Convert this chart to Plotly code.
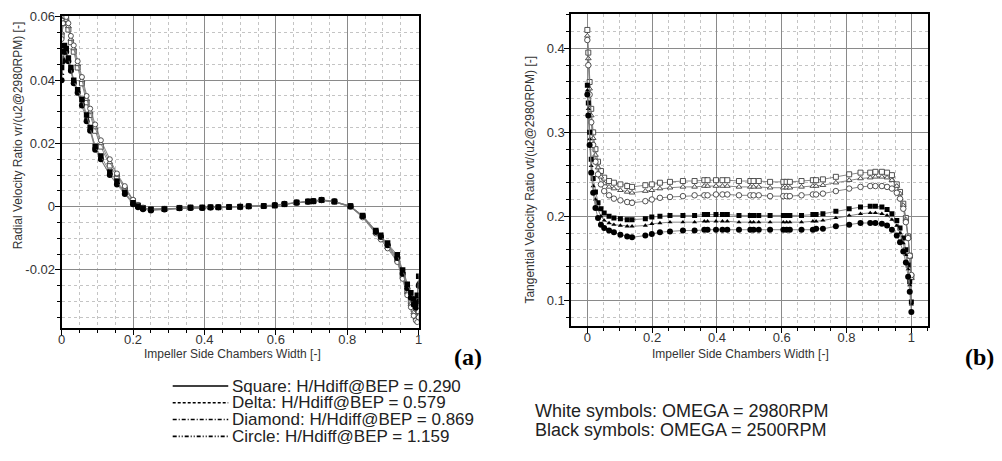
import plotly.graph_objects as go

# ---------------- data ----------------
# (a) radial velocity ratio
xa = [0.000, 0.004, 0.008, 0.013, 0.019, 0.026, 0.034, 0.045, 0.057, 0.070,
      0.080, 0.094, 0.110, 0.135, 0.155, 0.177, 0.200, 0.214, 0.228, 0.250,
      0.288, 0.330, 0.361, 0.394, 0.417, 0.439, 0.469, 0.500, 0.524, 0.566,
      0.597, 0.624, 0.658, 0.690, 0.705, 0.728, 0.764, 0.809, 0.843, 0.880,
      0.894, 0.913, 0.940, 0.955, 0.968, 0.978, 0.986, 0.992, 0.996, 1.000]

vr_white_square = [0.054, 0.058, 0.060, 0.059, 0.056, 0.052, 0.049, 0.044, 0.039, 0.033,
                   0.029, 0.024, 0.019, 0.013, 0.0095, 0.0055, 0.0018, 0.0004, -0.0004, -0.0008,
                   -0.0007, -0.0004, -0.0003, -0.0003, -0.0002, -0.0002, -0.0001, 0.0000, 0.0001, 0.0002,
                   0.0004, 0.0008, 0.0013, 0.0016, 0.0017, 0.0021, 0.0016, 0.0001, -0.0030, -0.0080,
                   -0.0097, -0.0125, -0.0165, -0.0215, -0.0265, -0.0300, -0.0325, -0.0340, -0.0348, -0.0330]
vr_white_delta = [0.055, 0.059, 0.0602, 0.059, 0.057, 0.053, 0.050, 0.045, 0.040, 0.034,
                  0.030, 0.025, 0.020, 0.014, 0.0100, 0.0060, 0.0020, 0.0005, -0.0004, -0.0008,
                  -0.0007, -0.0004, -0.0003, -0.0003, -0.0002, -0.0002, -0.0001, 0.0000, 0.0001, 0.0002,
                  0.0004, 0.0008, 0.0012, 0.0015, 0.0017, 0.0020, 0.0015, 0.0000, -0.0032, -0.0082,
                  -0.0100, -0.0128, -0.0170, -0.0222, -0.0272, -0.0308, -0.0335, -0.0352, -0.0360, -0.0345]
vr_white_circle = [0.053, 0.058, 0.0602, 0.060, 0.058, 0.054, 0.051, 0.046, 0.041, 0.035,
                   0.031, 0.026, 0.021, 0.015, 0.0105, 0.0065, 0.0022, 0.0006, -0.0003, -0.0008,
                   -0.0007, -0.0004, -0.0003, -0.0003, -0.0002, -0.0002, -0.0001, 0.0000, 0.0001, 0.0002,
                   0.0004, 0.0008, 0.0012, 0.0015, 0.0017, 0.0020, 0.0015, -0.0001, -0.0034, -0.0085,
                   -0.0104, -0.0132, -0.0175, -0.0228, -0.0280, -0.0318, -0.0345, -0.0360, -0.0365, -0.0350]
vr_black_square = [0.044, 0.049, 0.051, 0.050, 0.047, 0.044, 0.040, 0.037, 0.034, 0.029,
                   0.025, 0.019, 0.016, 0.011, 0.008, 0.0045, 0.0012, 0.0002, -0.0005, -0.0009,
                   -0.0007, -0.0004, -0.0003, -0.0003, -0.0002, -0.0002, -0.0001, 0.0000, 0.0001, 0.0002,
                   0.0004, 0.0008, 0.0013, 0.0016, 0.0017, 0.0021, 0.0016, 0.0002, -0.0028, -0.0075,
                   -0.0090, -0.0115, -0.0152, -0.0200, -0.0245, -0.0272, -0.0292, -0.0305, -0.0280, -0.0220]
vr_black_delta = [0.042, 0.047, 0.050, 0.049, 0.046, 0.043, 0.040, 0.036, 0.033, 0.028,
                  0.024, 0.019, 0.015, 0.010, 0.0075, 0.0042, 0.0010, 0.0000, -0.0006, -0.0010,
                  -0.0008, -0.0005, -0.0004, -0.0003, -0.0003, -0.0002, -0.0001, 0.0000, 0.0001, 0.0002,
                  0.0004, 0.0008, 0.0012, 0.0015, 0.0017, 0.0020, 0.0015, 0.0000, -0.0030, -0.0078,
                  -0.0094, -0.0120, -0.0158, -0.0206, -0.0250, -0.0280, -0.0300, -0.0310, -0.0290, -0.0240]
vr_black_circle = [0.040, 0.046, 0.049, 0.049, 0.046, 0.043, 0.039, 0.036, 0.032, 0.027,
                   0.024, 0.018, 0.015, 0.010, 0.0070, 0.0040, 0.0008, -0.0002, -0.0008, -0.0012,
                   -0.0009, -0.0005, -0.0004, -0.0004, -0.0003, -0.0002, -0.0001, 0.0000, 0.0001, 0.0002,
                   0.0005, 0.0009, 0.0013, 0.0016, 0.0018, 0.0022, 0.0017, 0.0001, -0.0030, -0.0080,
                   -0.0096, -0.0122, -0.0162, -0.0212, -0.0258, -0.0288, -0.0310, -0.0320, -0.0300, -0.0250]

# (b) tangential velocity ratio
xb = [0.000, 0.003, 0.007, 0.012, 0.018, 0.025, 0.033, 0.042, 0.052, 0.067,
      0.082, 0.102, 0.123, 0.138, 0.179, 0.199, 0.224, 0.255, 0.295, 0.331,
      0.361, 0.371, 0.397, 0.417, 0.432, 0.468, 0.503, 0.513, 0.529, 0.564,
      0.605, 0.615, 0.625, 0.661, 0.696, 0.706, 0.727, 0.767, 0.808, 0.843,
      0.873, 0.889, 0.909, 0.925, 0.940, 0.955, 0.965, 0.975, 0.983, 0.990,
      0.995, 1.000]

vt_white_square = [0.422, 0.395, 0.360, 0.328, 0.300, 0.280, 0.265, 0.254, 0.246, 0.242,
                   0.240, 0.238, 0.236, 0.235, 0.237, 0.238, 0.240, 0.241, 0.242, 0.242,
                   0.243, 0.243, 0.243, 0.243, 0.243, 0.242, 0.242, 0.242, 0.242, 0.241,
                   0.241, 0.241, 0.241, 0.242, 0.243, 0.243, 0.244, 0.247, 0.250, 0.252,
                   0.252, 0.253, 0.253, 0.252, 0.249, 0.238, 0.229, 0.215, 0.198, 0.176,
                   0.153, 0.128]
vt_white_delta = [0.415, 0.388, 0.352, 0.320, 0.293, 0.273, 0.258, 0.247, 0.239, 0.235,
                  0.233, 0.231, 0.229, 0.228, 0.230, 0.231, 0.233, 0.234, 0.235, 0.235,
                  0.236, 0.236, 0.236, 0.236, 0.236, 0.235, 0.235, 0.235, 0.235, 0.234,
                  0.234, 0.234, 0.234, 0.235, 0.236, 0.236, 0.237, 0.240, 0.243, 0.245,
                  0.246, 0.247, 0.247, 0.246, 0.243, 0.236, 0.227, 0.213, 0.196, 0.175,
                  0.152, 0.126]
vt_white_circle = [0.410, 0.380, 0.345, 0.312, 0.285, 0.265, 0.250, 0.238, 0.230, 0.225,
                   0.221, 0.219, 0.217, 0.216, 0.218, 0.220, 0.222, 0.223, 0.224, 0.225,
                   0.225, 0.225, 0.226, 0.226, 0.226, 0.225, 0.225, 0.225, 0.225, 0.224,
                   0.224, 0.224, 0.224, 0.225, 0.226, 0.226, 0.227, 0.230, 0.233, 0.235,
                   0.236, 0.236, 0.236, 0.235, 0.233, 0.228, 0.221, 0.209, 0.193, 0.174,
                   0.153, 0.130]
vt_black_square = [0.356, 0.335, 0.300, 0.268, 0.245, 0.229, 0.216, 0.209, 0.204, 0.200,
                   0.198, 0.197, 0.196, 0.196, 0.197, 0.199, 0.200, 0.201, 0.201, 0.201,
                   0.202, 0.202, 0.202, 0.202, 0.202, 0.201, 0.201, 0.201, 0.201, 0.201,
                   0.201, 0.201, 0.201, 0.201, 0.202, 0.202, 0.203, 0.206, 0.209, 0.211,
                   0.212, 0.212, 0.211, 0.208, 0.203, 0.195, 0.186, 0.174, 0.160, 0.142,
                   0.122, 0.098]
vt_black_delta = [0.350, 0.328, 0.292, 0.260, 0.236, 0.220, 0.208, 0.200, 0.195, 0.192,
                  0.190, 0.189, 0.188, 0.188, 0.189, 0.191, 0.192, 0.193, 0.193, 0.193,
                  0.194, 0.194, 0.194, 0.194, 0.194, 0.193, 0.193, 0.193, 0.193, 0.193,
                  0.193, 0.193, 0.193, 0.193, 0.194, 0.194, 0.195, 0.198, 0.201, 0.203,
                  0.204, 0.204, 0.203, 0.201, 0.196, 0.189, 0.180, 0.168, 0.154, 0.137,
                  0.118, 0.095]
vt_black_circle = [0.345, 0.320, 0.285, 0.252, 0.228, 0.210, 0.198, 0.190, 0.186, 0.183,
                   0.181, 0.178, 0.176, 0.175, 0.177, 0.179, 0.181, 0.182, 0.183, 0.183,
                   0.184, 0.184, 0.184, 0.184, 0.184, 0.184, 0.184, 0.184, 0.184, 0.184,
                   0.184, 0.184, 0.184, 0.184, 0.184, 0.185, 0.185, 0.188, 0.190, 0.192,
                   0.192, 0.192, 0.191, 0.189, 0.184, 0.177, 0.169, 0.158, 0.145, 0.128,
                   0.110, 0.086]

x_ticks = [0, 0.2, 0.4, 0.6, 0.8, 1]
x_ticktext = ["0", "0.2", "0.4", "0.6", "0.8", "1"]
ya_ticks = [-0.02, 0, 0.02, 0.04, 0.06]
ya_ticktext = ["-0.02", "0", "0.02", "0.04", "0.06"]
yb_ticks = [0.1, 0.2, 0.3, 0.4]
yb_ticktext = ["0.1", "0.2", "0.3", "0.4"]

legend_labels = ["Square: H/Hdiff@BEP = 0.290", "Delta: H/Hdiff@BEP = 0.579",
                 "Diamond: H/Hdiff@BEP = 0.869", "Circle: H/Hdiff@BEP = 1.159"]
omega_labels = ["White symbols: OMEGA = 2980RPM", "Black symbols: OMEGA = 2500RPM"]

# ---------------- figure ----------------
OFF = 8                      # page body margin
W, H = 1002 - OFF, 461 - OFF
FONT = "Liberation Sans, Arial, sans-serif"
LINE = "#7a7a7a"

fig = go.Figure()

def add(x, y, sym, white, size, xa_ref, ya_ref):
    if white:
        marker = dict(symbol=sym, size=size, color="white", line=dict(color="#404040", width=0.9))
    else:
        marker = dict(symbol=sym, size=size, color="black", line=dict(color="black", width=0))
    fig.add_trace(go.Scatter(x=x, y=y, mode="lines+markers", xaxis=xa_ref, yaxis=ya_ref,
                             line=dict(color=LINE, width=0.9), marker=marker, showlegend=False,
                             hoverinfo="x+y"))

# (a)
add(xa, vr_white_square, "square", True, 5, "x", "y")
add(xa, vr_white_delta, "triangle-up", True, 5, "x", "y")
add(xa, vr_white_circle, "circle", True, 5, "x", "y")
add(xa, vr_black_delta, "triangle-up", False, 5, "x", "y")
add(xa, vr_black_circle, "circle", False, 6, "x", "y")
add(xa, vr_black_square, "square", False, 5.5, "x", "y")

# (b)
add(xb, vt_white_square, "square", True, 5, "x2", "y2")
add(xb, vt_white_delta, "triangle-up", True, 5, "x2", "y2")
add(xb, vt_white_circle, "circle", True, 5.5, "x2", "y2")
add(xb, vt_black_square, "square", False, 5, "x2", "y2")
add(xb, vt_black_delta, "triangle-up", False, 4.5, "x2", "y2")
add(xb, vt_black_circle, "circle", False, 6, "x2", "y2")

def px_x(p):
    return (p - OFF) / W

def px_y(p):
    return 1 - (p - OFF) / H

axis_common = dict(
    showline=True, mirror=True, linecolor="black", linewidth=2,
    ticks="outside", ticklen=5, tickcolor="black", tickwidth=1,
    showgrid=True, gridcolor="#8a8a8a", gridwidth=1, zeroline=False,
    ticklabeloverflow="allow",
    tickfont=dict(family=FONT, size=13, color="#333333"),
)
minor_common = dict(showgrid=True, gridcolor="#c4c4c4", griddash="dot",
                    ticks="outside", ticklen=3, tickcolor="black")

fig.update_layout(
    width=W, height=H, margin=dict(l=0, r=0, t=0, b=0),
    paper_bgcolor="white", plot_bgcolor="white", showlegend=False,
    xaxis=dict(domain=[px_x(58), px_x(418)], range=[0, 1], anchor="y",
               tickvals=x_ticks, ticktext=x_ticktext, ticklabelstandoff=-6,
               minor=dict(dtick=0.05, tick0=0, **minor_common), **axis_common),
    yaxis=dict(domain=[px_y(326), px_y(10)], range=[-0.0383, 0.0603], anchor="x",
               tickvals=ya_ticks, ticktext=ya_ticktext, ticklabelstandoff=-3,
               minor=dict(dtick=0.005, tick0=0, **minor_common), **axis_common),
    xaxis2=dict(domain=[px_x(572), px_x(931)], range=[-0.049, 1.05], anchor="y2",
                tickvals=x_ticks, ticktext=x_ticktext, ticklabelstandoff=-6,
                minor=dict(dtick=0.05, tick0=0, **minor_common), **axis_common),
    yaxis2=dict(domain=[px_y(324), px_y(8)], range=[0.0695, 0.441], anchor="x2",
                tickvals=yb_ticks, ticktext=yb_ticktext, ticklabelstandoff=-3,
                minor=dict(dtick=0.02, tick0=0, **minor_common), **axis_common),
)

ann = []
tfont = dict(family=FONT, size=12, color="#333333")
# axis titles
ann.append(dict(text="Impeller Side Chambers Width [-]", x=px_x(230), y=px_y(353),
                xref="paper", yref="paper", showarrow=False, font=tfont,
                xanchor="center", yanchor="middle"))
ann.append(dict(text="Impeller Side Chambers Width [-]", x=px_x(742), y=px_y(353),
                xref="paper", yref="paper", showarrow=False, font=tfont,
                xanchor="center", yanchor="middle"))
ann.append(dict(text="Radial Velocity Ratio vr/(u2@2980RPM) [-]", x=px_x(14), y=px_y(131),
                xref="paper", yref="paper", showarrow=False, font=tfont, textangle=-90,
                xanchor="center", yanchor="middle"))
ann.append(dict(text="Tangential Velocity Ratio vt/(u2@2980RPM) [-]", x=px_x(530), y=px_y(176),
                xref="paper", yref="paper", showarrow=False, font=tfont, textangle=-90,
                xanchor="center", yanchor="middle"))
# panel labels
pfont = dict(family="Liberation Serif, Times New Roman, serif", size=24, color="black")
ann.append(dict(text="<b>(a)</b>", x=px_x(468), y=px_y(356), xref="paper", yref="paper",
                showarrow=False, font=pfont, xanchor="center", yanchor="middle"))
ann.append(dict(text="<b>(b)</b>", x=px_x(983), y=px_y(356), xref="paper", yref="paper",
                showarrow=False, font=pfont, xanchor="center", yanchor="middle"))

# legend (line styles)
dashes = ["solid", "3px,2px", "4px,2px,1px,2px", "4px,2px,1px,2px,1px,2px"]
rows = [385, 402, 419, 436]
lfont = dict(family=FONT, size=17, color="#222222")
shapes = []
for lab, d, r in zip(legend_labels, dashes, rows):
    shapes.append(dict(type="line", xref="paper", yref="paper", x0=px_x(170), x1=px_x(226),
                       y0=px_y(r), y1=px_y(r), line=dict(color="black", width=1.6, dash=d)))
    ann.append(dict(text=lab, x=px_x(228), y=px_y(r), xref="paper", yref="paper",
                    showarrow=False, font=lfont, xanchor="left", yanchor="middle"))

ofont = dict(family=FONT, size=18, color="#222222")
for lab, r in zip(omega_labels, [410, 430]):
    ann.append(dict(text=lab, x=px_x(533), y=px_y(r), xref="paper", yref="paper",
                    showarrow=False, font=ofont, xanchor="left", yanchor="middle"))

fig.update_layout(annotations=ann, shapes=shapes)
fig.write_html("out.html")
